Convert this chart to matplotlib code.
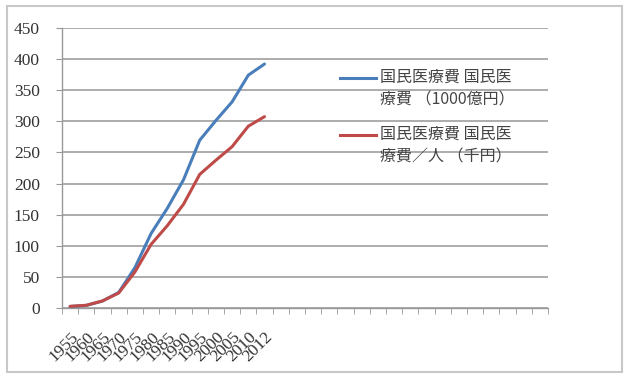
import matplotlib.pyplot as plt
from matplotlib.lines import Line2D
from matplotlib.patches import Rectangle

# 国民医療費の推移
years = ['1955', '1960', '1965', '1970', '1975', '1980', '1985',
         '1990', '1995', '2000', '2005', '2010', '2012']
total = [2.4, 4.1, 11.2, 25.0, 64.8, 119.8, 160.2,
         206.1, 269.6, 301.4, 331.3, 374.2, 392.1]      # 1000億円
per_person = [2.7, 4.4, 11.4, 24.1, 57.9, 102.3, 132.3,
              166.7, 214.7, 237.5, 259.3, 292.2, 307.5]  # 千円
labels = ['国民医療費 国民医\n療費 （1000億円）',
          '国民医療費 国民医\n療費／人 （千円）']
n_categories = 30   # 軸は空のカテゴリまで続く

blue = '#4a7ebb'
red = '#be4b48'
grid_c = '#a6a6a6'

plt.rcParams['font.family'] = ['Liberation Serif', 'Noto Sans CJK JP']

fig = plt.figure(figsize=(6.26, 3.78), dpi=100)
ax = fig.add_axes([62/626, 1 - 308/378, (548 - 62)/626, (308 - 28)/378])

x = list(range(len(years)))
ax.plot(x, total, color=blue, lw=2.2, solid_capstyle='round', zorder=3)
ax.plot(x, per_person, color=red, lw=2.2, solid_capstyle='round', zorder=3)

ax.set_xlim(-0.5, n_categories - 0.5)
ax.set_ylim(0, 450)
ax.set_yticks(range(0, 451, 50))
ax.yaxis.grid(True, color=grid_c, lw=1.3)
ax.set_axisbelow(True)

ax.set_xticks(x)
ax.set_xticklabels(years, rotation=45, ha='right', va='top',
                   rotation_mode='anchor', fontsize=12.5)
ax.tick_params(axis='x', length=0, pad=15, labelcolor='#333333')
ax.set_xticks([i - 0.5 for i in range(n_categories + 1)], minor=True)
ax.tick_params(axis='x', which='minor', length=4, color='#999999')
ax.tick_params(axis='y', length=4, color='#999999', labelsize=12.5,
               pad=12, labelcolor='#333333')

for side in ['top', 'right']:
    ax.spines[side].set_visible(False)
ax.spines['left'].set_color('#999999')
ax.spines['bottom'].set_color('#999999')
ax.spines['left'].set_linewidth(1.0)
ax.spines['bottom'].set_linewidth(1.0)

# 凡例（線の位置は1行目にそろえる）
for i, (c, lab) in enumerate(zip([blue, red], labels)):
    y0 = 1 - (78 + i * 57) / 378
    fig.add_artist(Line2D([340/626, 376/626], [y0, y0], color=c, lw=2.2,
                          transform=fig.transFigure))
    fig.text(380/626, y0 + 9/378, lab, fontsize=11.5, va='top', ha='left',
             family=['Noto Sans CJK JP'], color='#444444',
             linespacing=1.45, transform=fig.transFigure)

# 外枠
fig.add_artist(Rectangle((7/626, 6/378), 615/626, 366/378, fill=False,
                         edgecolor='#c8c8c8', lw=1.5, transform=fig.transFigure))

fig.savefig('out.png', dpi=100)
